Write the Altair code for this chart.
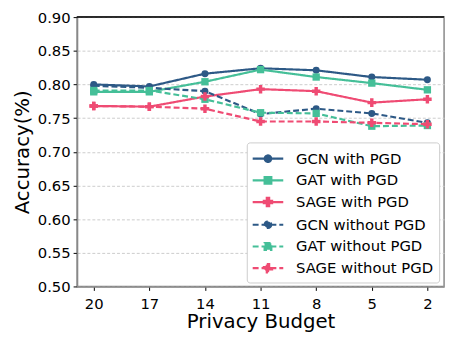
import altair as alt
import pandas as pd

budgets = ["20", "17", "14", "11", "8", "5", "2"]
series_names = ["GCN with PGD", "GAT with PGD", "SAGE with PGD",
                "GCN without PGD", "GAT without PGD", "SAGE without PGD"]
models = ["GCN", "GAT", "SAGE", "GCN", "GAT", "SAGE"]
gcn_pgd = [0.800, 0.797, 0.816, 0.824, 0.821, 0.811, 0.807]
gat_pgd = [0.789, 0.789, 0.804, 0.822, 0.811, 0.802, 0.792]
sage_pgd = [0.768, 0.767, 0.782, 0.793, 0.790, 0.773, 0.778]
gcn_nopgd = [0.798, 0.795, 0.790, 0.756, 0.764, 0.757, 0.743]
gat_nopgd = [0.791, 0.791, 0.778, 0.758, 0.757, 0.738, 0.739]
sage_nopgd = [0.768, 0.767, 0.764, 0.745, 0.745, 0.743, 0.741]
all_values = [gcn_pgd, gat_pgd, sage_pgd, gcn_nopgd, gat_nopgd, sage_nopgd]

colors = ["#2d5986", "#45bf98", "#ef4b73", "#2d5986", "#45bf98", "#ef4b73"]
dashes = [[1, 0], [1, 0], [1, 0], [6, 3], [6, 3], [6, 3]]

# legend glyphs: line segment + marker, in symbol units (1 unit = 10px at size 400)
circ = "M0.33,0A0.33,0.33 0 1,1 -0.33,0A0.33,0.33 0 1,1 0.33,0Z"
sq = "M-0.34,-0.34L0.34,-0.34L0.34,0.34L-0.34,0.34Z"
crs = ("M-0.12,-0.42L0.12,-0.42L0.12,-0.12L0.42,-0.12L0.42,0.12L0.12,0.12L0.12,0.42"
       "L-0.12,0.42L-0.12,0.12L-0.42,0.12L-0.42,-0.12L-0.12,-0.12Z")
line = "M-1.55,0L1.55,0"
legend_paths = [line + circ, line + sq, line + crs, line + circ, line + sq, line + crs]

rows = []
for name, model, vals in zip(series_names, models, all_values):
    for b, v in zip(budgets, vals):
        rows.append({"budget": b, "acc": v, "series": name, "model": model})
df = pd.DataFrame(rows)

W, H = 372, 273

x_enc = alt.X("budget:N", sort=budgets,
              scale=alt.Scale(type="point", padding=0.3),
              axis=alt.Axis(title="Privacy Budget", labelAngle=0, grid=False,
                            labelPadding=6, titlePadding=1))
y_enc = alt.Y("acc:Q", scale=alt.Scale(domain=[0.5, 0.9], nice=False, zero=False),
              axis=alt.Axis(title="Accuracy(%)", values=[0.5, 0.55, 0.6, 0.65, 0.7, 0.75, 0.8, 0.85, 0.9],
                            format=".2f", grid=True, gridDash=[3, 2], gridColor="#cccccc",
                            labelPadding=3, titlePadding=5))

color_scale = alt.Scale(domain=series_names, range=colors)
dash_scale = alt.Scale(domain=series_names, range=dashes)

legend = alt.Legend(title=None, orient="none", legendX=172, legendY=127,
                    labelFontSize=15, labelFont="DejaVu Sans", labelColor="black",
                    symbolSize=400, symbolStrokeWidth=2.2, symbolOffset=5, labelOffset=17,
                    rowPadding=2, padding=5, fillColor="white",
                    strokeColor="#cccccc", cornerRadius=3)

base = alt.Chart(df)

lines = base.mark_line(strokeWidth=2.2).encode(
    x=x_enc, y=y_enc,
    color=alt.Color("series:N", scale=color_scale, legend=legend),
    strokeDash=alt.StrokeDash("series:N", scale=dash_scale, legend=legend),
)

marker_layers = []
for model, shp, sz in [("GCN", "circle", 50), ("GAT", "square", 55), ("SAGE", "cross", 75)]:
    marker_layers.append(
        base.transform_filter(alt.datum.model == model).mark_point(
            filled=True, size=sz, opacity=1, shape=shp
        ).encode(
            x=x_enc, y=y_enc,
            color=alt.Color("series:N", scale=color_scale, legend=legend),
        )
    )

legend_layer = base.transform_filter("false").mark_point(filled=False, strokeWidth=2.2, opacity=1).encode(
    x=x_enc, y=y_enc,
    color=alt.Color("series:N", scale=color_scale, legend=legend),
    fill=alt.Fill("series:N", scale=color_scale, legend=legend),
    strokeDash=alt.StrokeDash("series:N", scale=dash_scale, legend=legend),
    shape=alt.Shape("series:N", scale=alt.Scale(domain=series_names, range=legend_paths), legend=legend),
)

top_spine = alt.Chart(pd.DataFrame({"k": [0]})).mark_rule(color="black", strokeWidth=1.5).encode(
    y=alt.value(0), x=alt.value(0), x2=alt.value(W)
)

chart = alt.layer(lines, *marker_layers, legend_layer, top_spine).properties(
    width=W, height=H, background="white",
    padding={"left": 4, "top": 0, "right": 5, "bottom": 2}
).configure_view(
    stroke="#888888", strokeWidth=1.5
).configure_axis(
    labelFont="DejaVu Sans", titleFont="DejaVu Sans", labelFontSize=15, titleFontSize=20,
    titleFontWeight="normal", labelColor="black", titleColor="black",
    domainColor="#888888", domainWidth=1.5, tickColor="black", tickSize=4
)

chart.save("out.html", embed_options={"renderer": "svg", "actions": False})
